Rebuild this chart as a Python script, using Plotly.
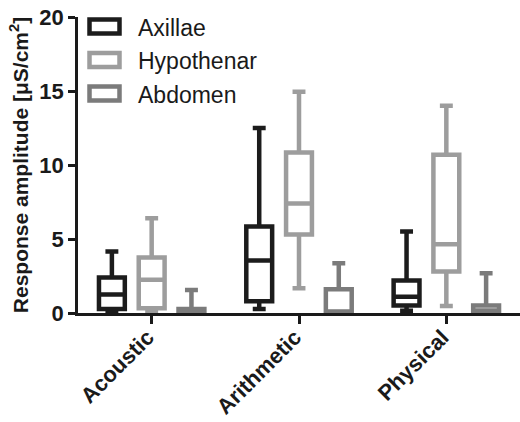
import plotly.graph_objects as go

categories = ["Acoustic", "Arithmetic", "Physical"]
series_names = ["Axillae", "Hypothenar", "Abdomen"]
series_colors = ["#1c1c1c", "#9d9d9d", "#7b7b7b"]

# per series: lists over categories
axillae_min = [0.1, 0.27, 0.15]
axillae_q1 = [0.27, 0.8, 0.5]
axillae_med = [1.25, 3.55, 1.1]
axillae_q3 = [2.4, 5.85, 2.2]
axillae_max = [4.15, 12.5, 5.5]

hypothenar_min = [0.05, 1.67, 0.47]
hypothenar_q1 = [0.32, 5.3, 2.8]
hypothenar_med = [2.25, 7.4, 4.65]
hypothenar_q3 = [3.75, 10.85, 10.7]
hypothenar_max = [6.4, 14.95, 14.0]

abdomen_min = [0.0, 0.0, 0.0]
abdomen_q1 = [0.05, 0.03, 0.1]
abdomen_med = [0.15, 0.05, 0.1]
abdomen_q3 = [0.27, 1.6, 0.5]
abdomen_max = [1.55, 3.36, 2.68]

y_tick_values = [0, 5, 10, 15, 20]

stats = [
    (axillae_min, axillae_q1, axillae_med, axillae_q3, axillae_max),
    (hypothenar_min, hypothenar_q1, hypothenar_med, hypothenar_q3, hypothenar_max),
    (abdomen_min, abdomen_q1, abdomen_med, abdomen_q3, abdomen_max),
]

W, H = 520, 422
ML, MR, MT, MB = 78, 0, 17, 109
PW, PH = W - ML - MR, H - MT - MB
font_family = "Liberation Sans, Arial, sans-serif"
dark = "#1a1a1a"

fig = go.Figure()
for name, color, (mn, q1, md, q3, mx) in zip(series_names, series_colors, stats):
    fig.add_trace(go.Box(
        name=name,
        x=categories,
        lowerfence=mn, q1=q1, median=md, q3=q3, upperfence=mx,
        fillcolor="white",
        line=dict(color=color, width=4.5),
        whiskerwidth=0.5,
        boxpoints=False,
        showlegend=False,
    ))

# custom legend (large swatches like the reference)
def px_x(px):
    return (px - ML) / PW

def px_y(py):
    return (MT + PH - py) / PH

legend_rows = [26.5, 60, 93.5]
for name, color, cy in zip(series_names, series_colors, legend_rows):
    fig.add_shape(type="rect", xref="paper", yref="paper",
                  x0=px_x(89.5), x1=px_x(119.5), y0=px_y(cy - 7), y1=px_y(cy + 7),
                  line=dict(color=color, width=4.5), fillcolor="white", layer="above")
    fig.add_annotation(text=name, xref="paper", yref="paper",
                       x=px_x(136), y=px_y(cy + 1), xanchor="left", yanchor="middle",
                       showarrow=False, font=dict(size=23, color=dark, family=font_family))

fig.update_layout(
    width=W, height=H,
    margin=dict(l=ML, r=MR, t=MT, b=MB, autoexpand=False),
    paper_bgcolor="white", plot_bgcolor="white",
    boxmode="group", boxgap=0.19, boxgroupgap=0.35,
    font=dict(family=font_family, color=dark),
    showlegend=False,
)
fig.update_xaxes(
    range=[-0.5, 2.5], showgrid=False, zeroline=False,
    showline=True, linecolor=dark, linewidth=2.5,
    ticks="outside", ticklen=8, tickwidth=2.5, tickcolor=dark,
    tickangle=-45, tickfont=dict(size=22, family=font_family, weight="bold", color=dark),
    ticklabelstandoff=-8, ticklabelshift=-4,
    automargin=False,
)
fig.update_yaxes(
    range=[0, 20], tickvals=y_tick_values, showgrid=False, zeroline=False,
    showline=True, linecolor=dark, linewidth=2.5,
    ticks="outside", ticklen=7, tickwidth=2.5, tickcolor=dark,
    tickfont=dict(size=22, family=font_family, weight="bold", color=dark),
    title=dict(text="Response amplitude [μS/cm<sup>2</sup>]",
               font=dict(size=21, family=font_family, weight="bold", color=dark), standoff=6),
    automargin=False,
)

fig.write_html("out.html", config={"displayModeBar": False},
               post_script="document.body.style.margin='0';")
